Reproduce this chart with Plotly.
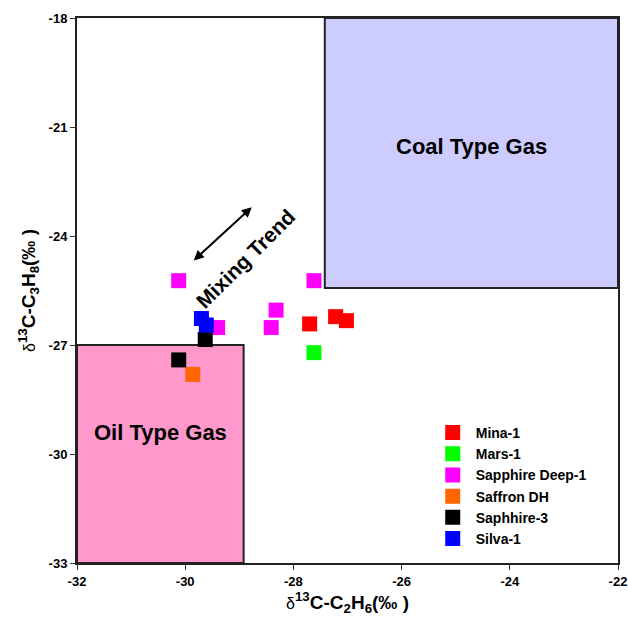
import plotly.graph_objects as go

# Wells and their carbon isotope values (δ13C ethane, δ13C propane)
wells = ["Mina-1", "Mars-1", "Sapphire Deep-1", "Saffron DH", "Saphhire-3", "Silva-1"]
colors = ["#ff0000", "#00ff00", "#ff00ff", "#ff6600", "#000000", "#0000ff"]
c2h6 = [
    [-27.70, -27.22, -27.02],
    [-27.62],
    [-30.12, -27.62, -28.32, -28.41, -29.40],
    [-29.86],
    [-29.63, -30.12],
    [-29.70, -29.61],
]
c3h8 = [
    [-26.42, -26.22, -26.33],
    [-27.21],
    [-25.23, -25.23, -26.04, -26.52, -26.52],
    [-27.81],
    [-26.85, -27.41],
    [-26.27, -26.45],
]

# Genetic type fields
coal_x = [-27.42, -22.0]
coal_y = [-25.43, -18.0]
oil_x = [-32.0, -28.92]
oil_y = [-33.0, -27.0]

x_ticks = [-32, -30, -28, -26, -24, -22]
y_ticks = [-33, -30, -27, -24, -21, -18]
x_ticktext = [str(v) for v in x_ticks]
y_ticktext = [str(v) for v in y_ticks]

FONT = "Liberation Sans, Arial, sans-serif"

fig = go.Figure()

fig.add_shape(type="rect", x0=coal_x[0], x1=coal_x[1], y0=coal_y[0], y1=coal_y[1],
              fillcolor="#ccccff", line=dict(color="#222222", width=2), layer="below")
fig.add_shape(type="rect", x0=oil_x[0], x1=oil_x[1], y0=oil_y[0], y1=oil_y[1],
              fillcolor="#ff99cc", line=dict(color="#222222", width=2), layer="below")

fig.add_annotation(x=(coal_x[0] + coal_x[1]) / 2, y=-21.55, text="<b>Coal Type Gas</b>",
                   showarrow=False, font=dict(family=FONT, size=22, color="black"))
fig.add_annotation(x=(oil_x[0] + oil_x[1]) / 2, y=-29.4, text="<b>Oil Type Gas</b>",
                   showarrow=False, font=dict(family=FONT, size=22, color="black"))

# Mixing trend double-headed arrow
fig.add_annotation(x=-28.77, y=-23.21, ax=-29.87, ay=-24.71, xref="x", yref="y",
                   axref="x", ayref="y", text="", showarrow=True, arrowhead=2,
                   arrowside="end+start", arrowsize=1.0, arrowwidth=2, arrowcolor="black")
fig.add_annotation(x=-28.88, y=-24.63, text="<b>Mixing Trend</b>", showarrow=False,
                   textangle=-45, font=dict(family=FONT, size=21, color="black"))

for name, col, xs, ys in zip(wells, colors, c2h6, c3h8):
    fig.add_trace(go.Scatter(x=xs, y=ys, mode="markers", name=name,
                             marker=dict(symbol="square", size=15, color=col,
                                         line=dict(width=0))))

fig.update_layout(
    width=628, height=621,
    margin=dict(l=77, r=10, t=18, b=58),
    paper_bgcolor="white", plot_bgcolor="white",
    font=dict(family=FONT, color="black"),
    showlegend=True,
    legend=dict(x=0.652, y=0.268, xanchor="left", yanchor="top",
                font=dict(family=FONT, size=14, color="black", weight="bold"),
                bgcolor="rgba(0,0,0,0)", itemsizing="trace", tracegroupgap=0,
                itemwidth=36),
)

fig.update_xaxes(range=[-32, -22], tickvals=x_ticks, ticktext=x_ticktext,
                 ticks="outside", ticklen=5, automargin=False,
                 ticklabeloverflow="allow",
                 tickcolor="#333", showline=True, linecolor="#222", linewidth=2,
                 mirror=True, showgrid=False, zeroline=False,
                 tickfont=dict(family=FONT, size=13, weight="bold"),
                 title=dict(text="<span style='font-weight:normal;font-size:16px'>δ</span><sup>13</sup>C-C<sub>2</sub>H<sub>6</sub>(‰ )",
                            font=dict(family=FONT, size=19, weight="bold"), standoff=6))
fig.update_yaxes(range=[-33, -18], tickvals=y_ticks, ticktext=y_ticktext,
                 ticks="outside", ticklen=5, automargin=False,
                 tickcolor="#333", showline=True, linecolor="#222", linewidth=2,
                 mirror=True, showgrid=False, zeroline=False,
                 tickfont=dict(family=FONT, size=13, weight="bold"),
                 title=dict(text="<span style='font-weight:normal;font-size:16px'>δ</span><sup>13</sup>C-C<sub>3</sub>H<sub>8</sub>(‰ )",
                            font=dict(family=FONT, size=19, weight="bold"), standoff=8))

fig.write_html("out.html")
